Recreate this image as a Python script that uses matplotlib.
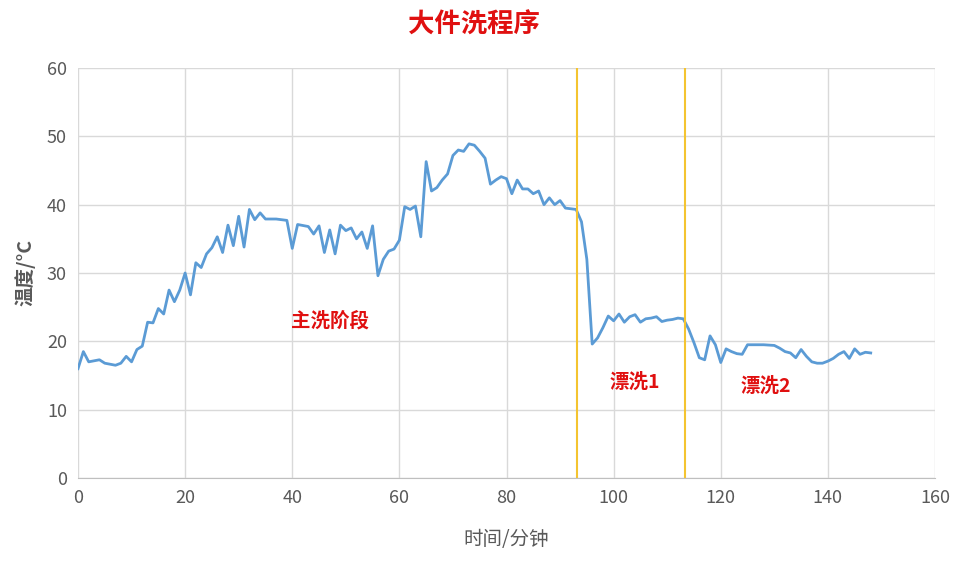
import matplotlib
matplotlib.use('Agg')
import matplotlib.pyplot as plt

plt.rcParams['font.family'] = ['Noto Sans CJK SC', 'DejaVu Sans']

# time (min) and temperature readings
minutes = [0, 1, 2, 4, 5, 7, 8, 9, 10, 11, 12, 13, 14, 15, 16, 17, 18, 19, 20, 21,
           22, 23, 24, 25, 26, 27, 28, 29, 30, 31, 32, 33, 34, 35, 37, 39, 40, 41, 43, 44,
           45, 46, 47, 48, 49, 50, 51, 52, 53, 54, 55, 56, 57, 58, 59, 60, 61, 62, 63, 64,
           65, 66, 67, 68, 69, 70, 71, 72, 73, 74, 75, 76, 77, 78, 79, 80, 81, 82, 83, 84,
           85, 86, 87, 88, 89, 90, 91, 92, 93, 94, 95, 96, 97, 98, 99, 100, 101, 102, 103, 104,
           105, 106, 107, 108, 109, 110, 111, 112, 113, 114, 115, 116, 117, 118, 119, 120, 121, 122, 123, 124,
           125, 126, 128, 130, 131, 132, 133, 134, 135, 136, 137, 138, 139, 140, 141, 142, 143, 144, 145, 146,
           147, 148]
temps = [16, 18.5, 17, 17.3, 16.8, 16.5, 16.8, 17.8, 17, 18.8, 19.3, 22.8, 22.7, 24.8, 24, 27.5, 25.8, 27.5, 30, 26.8,
         31.5, 30.8, 32.8, 33.7, 35.3, 33, 37, 34, 38.3, 33.8, 39.3, 37.8, 38.8, 37.9, 37.9, 37.7, 33.6, 37.1, 36.8, 35.7,
         36.9, 33, 36.3, 32.8, 37, 36.2, 36.6, 35, 36, 33.6, 36.9, 29.6, 32, 33.2, 33.5, 34.8, 39.7, 39.3, 39.8, 35.3,
         46.3, 42, 42.5, 43.6, 44.5, 47.2, 48, 47.8, 48.9, 48.7, 47.8, 46.8, 43, 43.6, 44.1, 43.8, 41.6, 43.6, 42.3, 42.3,
         41.6, 42, 40, 41, 40, 40.6, 39.5, 39.4, 39.3, 37.5, 32, 19.6, 20.5, 22, 23.7, 23, 24, 22.8, 23.6, 23.9,
         22.8, 23.3, 23.4, 23.6, 22.9, 23.1, 23.2, 23.4, 23.3, 21.8, 19.8, 17.6, 17.3, 20.8, 19.5, 16.9, 18.9, 18.5, 18.2, 18.1,
         19.5, 19.5, 19.5, 19.4, 19, 18.5, 18.3, 17.6, 18.8, 17.8, 17, 16.8, 16.8, 17.1, 17.5, 18.1, 18.5, 17.5, 18.9, 18.1,
         18.4, 18.3]

stage_lines = [93.2, 113.3]
stage_labels = ['主洗阶段', '漂洗1', '漂洗2']
label_pos = [(47, 23), (104, 14), (128.5, 13.5)]

fig = plt.figure(figsize=(9.57, 5.64), dpi=100)
ax = fig.add_axes([78 / 957, 1 - 478 / 564, 857 / 957, 410 / 564])

ax.plot(minutes, temps, color='#5b9bd5', linewidth=2)
for x in stage_lines:
    ax.axvline(x, color='#f4c430', linewidth=1.5)
for txt, (x, y) in zip(stage_labels, label_pos):
    ax.text(x, y, txt, color='#e01010', fontsize=14, fontweight='bold', ha='center', va='center')

ax.set_xlim(0, 160)
ax.set_ylim(0, 60)
ax.set_xticks(range(0, 161, 20))
ax.set_yticks(range(0, 61, 10))
ax.grid(True, color='#d9d9d9', linewidth=1)
ax.set_axisbelow(True)
for s in ['top', 'right', 'left']:
    ax.spines[s].set_visible(False)
ax.spines['bottom'].set_color('#bfbfbf')
ax.tick_params(length=0, labelsize=13, colors='#595959', pad=8)

ax.set_xlabel('时间/分钟', fontsize=14, color='#595959', labelpad=16)
ax.set_ylabel('温度/°C', fontsize=14, color='#595959', fontweight='bold', labelpad=8)
fig.text(0.495, 0.955, '大件洗程序', color='#e01010', fontsize=19, fontweight='bold', ha='center', va='center')

fig.savefig('out.png', dpi=100)
